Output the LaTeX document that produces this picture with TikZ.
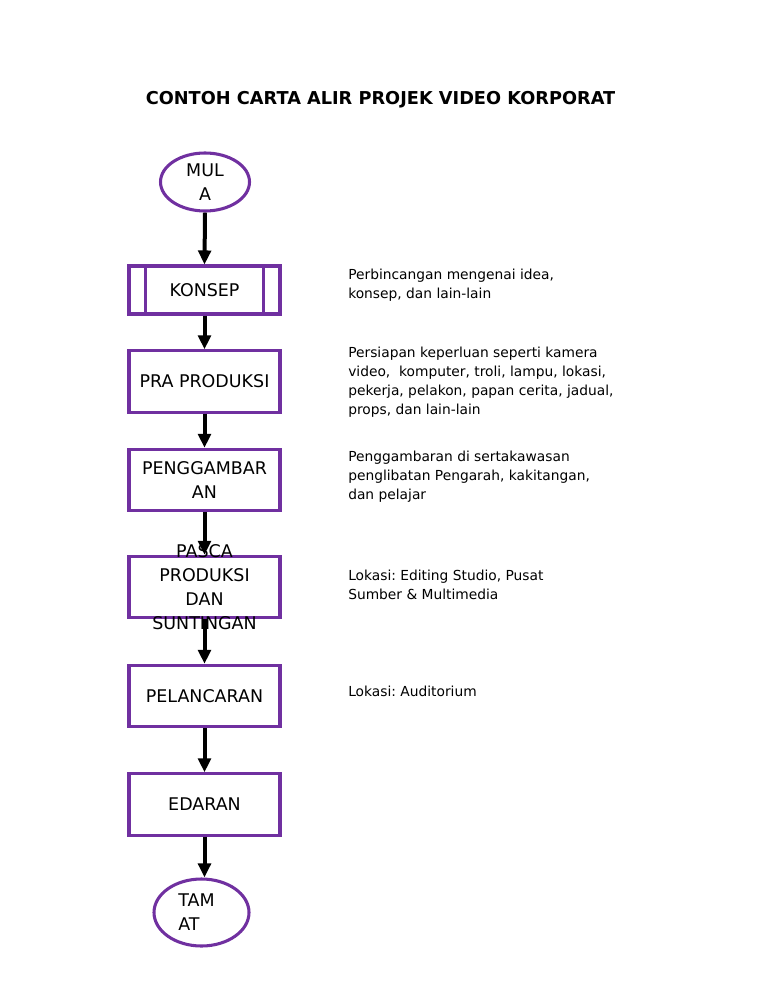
\documentclass[tikz,border=0pt]{standalone}
\usepackage{fontspec}
\setmainfont{DejaVu Sans}
\usepackage{xcolor}
\usetikzlibrary{shapes.geometric,arrows.meta}
\definecolor{boxpurple}{RGB}{112,48,160}
\frenchspacing

\begin{document}
\begin{tikzpicture}[x=0.75pt,y=-0.75pt,
	stage/.style={draw=boxpurple,line width=2.3pt,minimum width=113.25pt,minimum height=46pt,inner sep=0pt},
	terminal/.style={draw=boxpurple,line width=2.3pt,ellipse,inner sep=0pt},
	boxtext/.style={align=center,inner sep=0pt,font=\fontsize{13.1}{18}\selectfont},
	note/.style={align=left,anchor=north west,inner sep=0pt,font=\fontsize{10.35}{14.25}\selectfont},
	flow/.style={line width=3pt,-{Triangle[length=10.5pt,width=9.5pt]}}]
		\useasboundingbox (0,0) rectangle (768,994);

		\node[font=\bfseries\fontsize{13.3}{16}\selectfont] (title) at (380.5,100) {CONTOH CARTA ALIR PROJEK VIDEO KORPORAT};

		\node[terminal,minimum width=66.75pt,minimum height=43.5pt] (mula) at (205,182) {};
		\node[stage,minimum height=36pt] (konsep) at (204.5,290) {};
		\node[stage] (pra) at (204.5,381.5) {};
		\node[stage] (gambar) at (204.5,480) {};
		\node[stage] (pasca) at (204.5,587) {};
		\node[stage] (lancar) at (204.5,696) {};
		\node[stage] (edaran) at (204.5,804.5) {};
		\node[terminal,minimum width=71.25pt,minimum height=50.25pt] (tamat) at (201.5,912.5) {};

		\draw[draw=boxpurple,line width=2.3pt] ([xshift=13.5pt]konsep.north west) -- ([xshift=13.5pt]konsep.south west);
		\draw[draw=boxpurple,line width=2.3pt] ([xshift=-13.5pt]konsep.north east) -- ([xshift=-13.5pt]konsep.south east);

		\draw[flow] (mula.south) -- (konsep.north);
		\draw[flow] (konsep.south) -- (pra.north);
		\draw[flow] (pra.south) -- (gambar.north);
		\draw[flow] (gambar.south) -- (pasca.north);
		\draw[flow] (pasca.south) -- (lancar.north);
		\draw[flow] (lancar.south) -- (edaran.north);
		\draw[flow] (edaran.south) -- (edaran.south |- tamat.north);

		\node[boxtext] (mulatext) at (mula) {MUL\\A};
		\node[boxtext] (konseptext) at (konsep) {KONSEP};
		\node[boxtext] (pratext) at (pra) {PRA PRODUKSI};
		\node[boxtext] (gambartext) at (gambar) {PENGGAMBAR\\AN};
		\node[boxtext] (pascatext) at (pasca) {PASCA\\PRODUKSI\\DAN\\SUNTINGAN};
		\node[boxtext] (lancartext) at (lancar) {PELANCARAN};
		\node[boxtext] (edarantext) at (edaran) {EDARAN};
		\node[boxtext,align=left] (tamattext) at (196.5,912) {TAM\\AT};

		\node[note] (konsepnote) at (348,269) {Perbincangan mengenai idea,\\konsep, dan lain-lain};
		\node[note] (pranote) at (348,347) {Persiapan keperluan seperti kamera\\video,\ \ komputer, troli, lampu, lokasi,\\pekerja, pelakon, papan cerita, jadual,\\props, dan lain-lain};
		\node[note] (gambarnote) at (348,451) {Penggambaran di sertakawasan\\penglibatan Pengarah, kakitangan,\\dan pelajar};
		\node[note] (pascanote) at (348,570) {Lokasi: Editing Studio, Pusat\\Sumber \& Multimedia};
		\node[note] (lancarnote) at (348,686) {Lokasi: Auditorium};
		\end{tikzpicture}
\end{document}
